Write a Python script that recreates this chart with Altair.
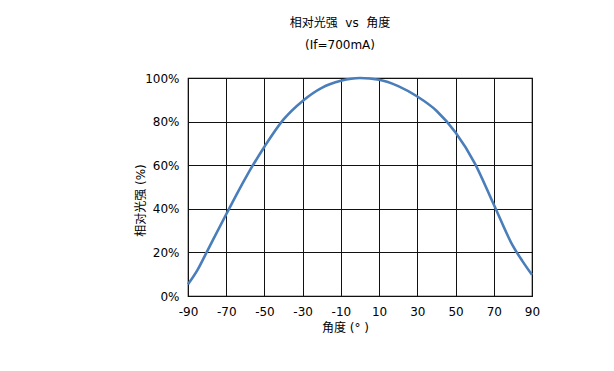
import altair as alt
import pandas as pd

angles = [-90, -85, -80, -70, -60, -50, -40, -30, -20, -10, 0, 10, 20, 30, 40, 50, 60, 70, 80, 85, 90]
intensity = [5.4, 12, 20.5, 37.5, 54, 68.5, 81, 89.5, 95.5, 98.7, 100, 99.2, 96.3, 91.5, 85, 75, 61, 42, 23, 16, 9.7]
x_ticks = [-90, -70, -50, -30, -10, 10, 30, 50, 70, 90]
y_ticks = [0, 20, 40, 60, 80, 100]

df = pd.DataFrame({"angle": angles, "val": intensity})
FONT = "DejaVu Sans, Noto Sans CJK SC"
NB = "\u00a0"

chart = alt.Chart(df).mark_line(
    color="#4A7EBB", strokeWidth=2.6, interpolate="monotone"
).encode(
    x=alt.X("angle:Q", scale=alt.Scale(domain=[-90, 90], nice=False),
            axis=alt.Axis(values=x_ticks, title="角度" + NB + "(°" + NB + ")", grid=True, tickSize=0,
                          labelPadding=10, labelFlush=False, labelExpr="'' + datum.value",
                          titleX=157, titleY=31, titleBaseline="middle", domain=False)),
    y=alt.Y("val:Q", scale=alt.Scale(domain=[0, 100], nice=False),
            axis=alt.Axis(values=y_ticks, title="相对光强" + NB + "(%)", grid=True, tickSize=0,
                          labelPadding=9, labelExpr="datum.value + '%'",
                          titleX=-48, titleY=122, titleBaseline="middle", domain=False)),
).properties(
    width=344, height=218,
    title=alt.TitleParams(text=["相对光强" + NB * 2 + "vs" + NB * 2 + "角度", "(If=700mA)"], anchor="middle",
                          fontSize=12, fontWeight="normal", font=FONT, lineHeight=22,
                          offset=20, dx=-20, color="#000"),
    autosize=alt.AutoSizeParams(type="none"),
    padding={"left": 180, "top": 70, "right": 70, "bottom": 60},
).configure_view(
    stroke="#000", strokeWidth=1.2
).configure_axis(
    gridColor="#111", gridWidth=1, gridOpacity=1,
    labelFont=FONT, labelFontSize=12, labelColor="#000",
    titleFont=FONT, titleFontSize=12, titleFontWeight="normal", titleColor="#000",
)

chart.save("out.html", embed_options={"renderer": "svg", "actions": False})
